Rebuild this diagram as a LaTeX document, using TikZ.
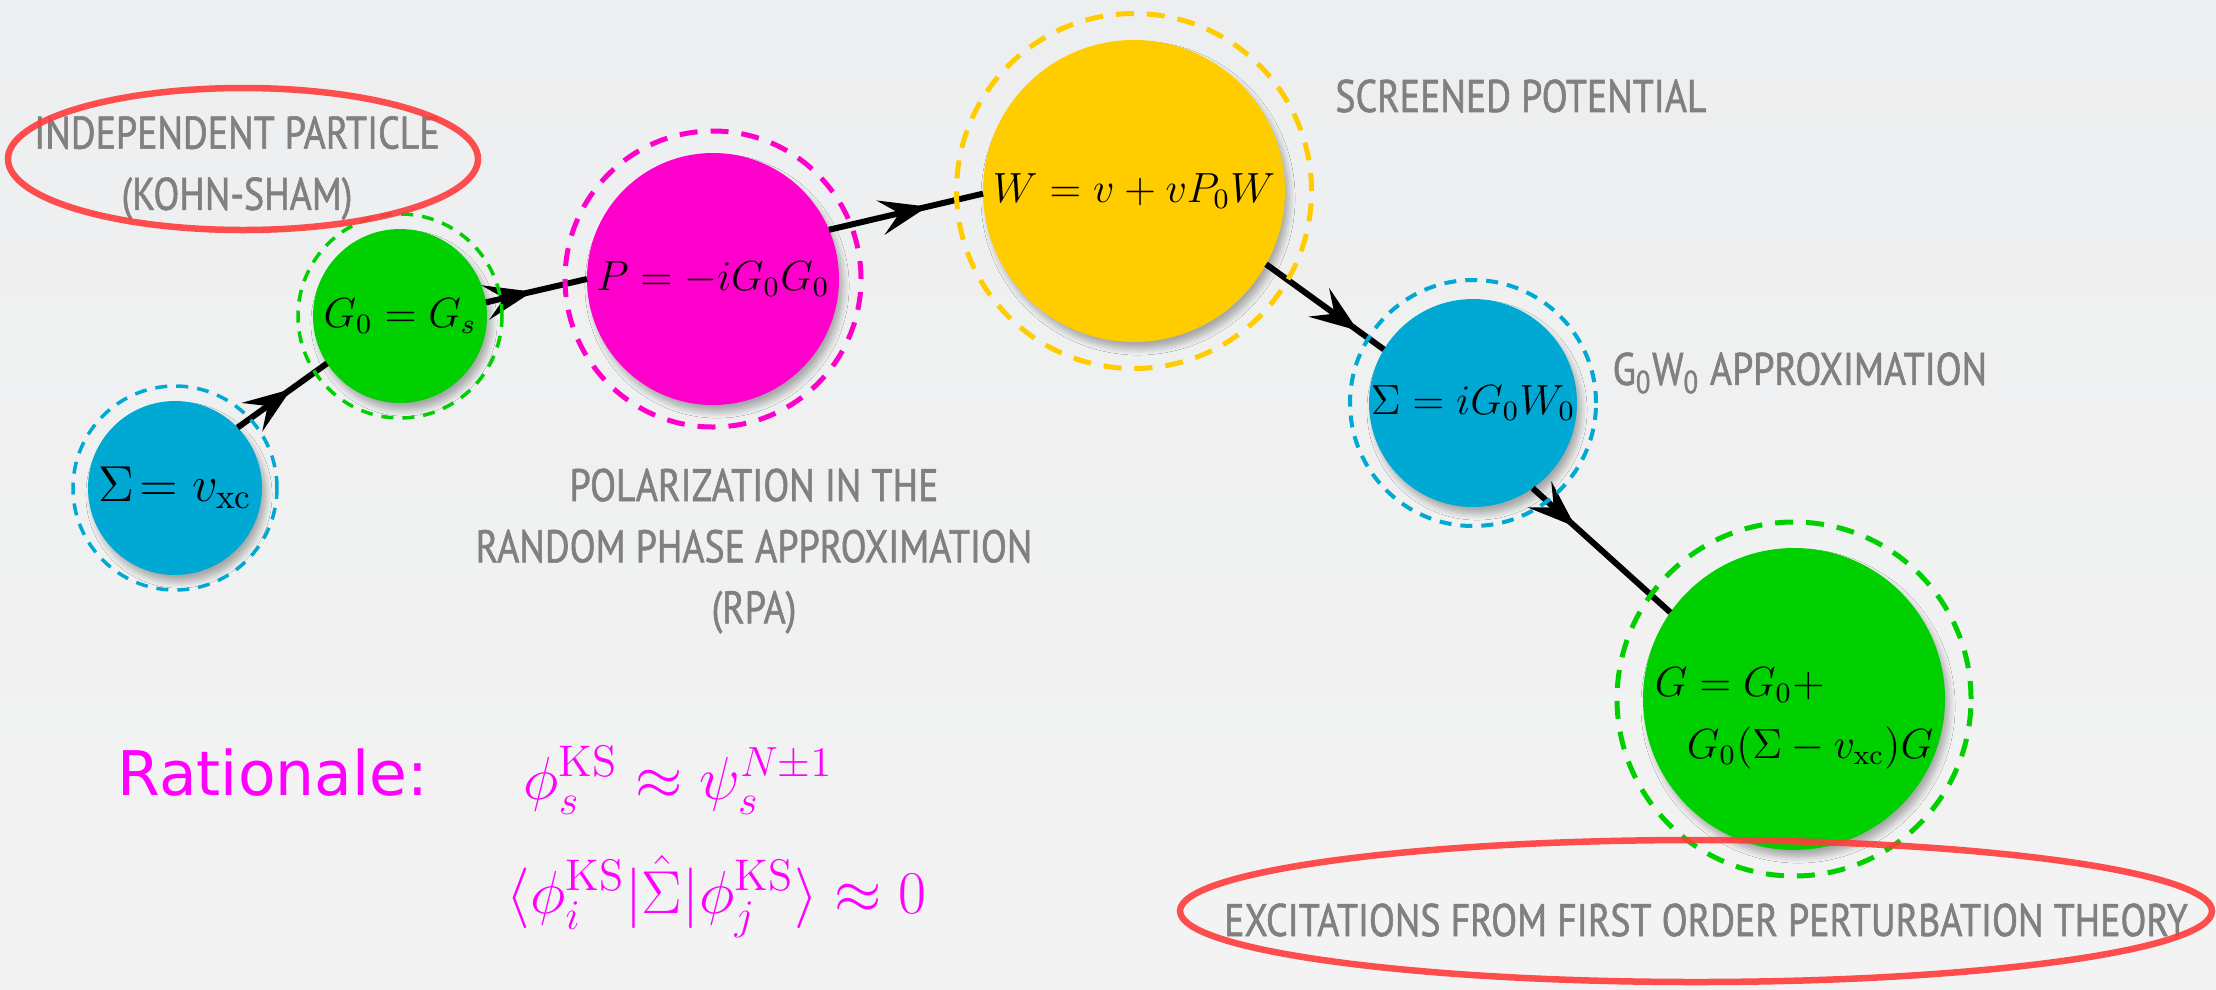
\documentclass[tikz,border=0pt]{standalone}
\usepackage{fontspec}
\usepackage{amsmath}
\usetikzlibrary{shapes.geometric,arrows.meta,decorations.markings,shadows.blur}
\newfontfamily\handfont[FakeStretch=0.83,FakeBold=1.2]{PT Sans}
\newfontfamily\ratfont{DejaVu Sans}
\definecolor{gwblue}{RGB}{0,169,212}
\definecolor{gwgreen}{RGB}{0,208,0}
\definecolor{gwpink}{RGB}{255,0,204}
\definecolor{gwyellow}{RGB}{255,204,0}
\definecolor{gwred}{RGB}{255,60,60}
\definecolor{gwgray}{RGB}{128,128,128}
\definecolor{ratpink}{RGB}{255,0,255}
\definecolor{bgtop}{RGB}{237,238,239}
\definecolor{bgbot}{RGB}{243,243,243}

\begin{document}
\begin{tikzpicture}[x=.1mm,y=-.1mm,
		bubble/.style={circle,inner sep=0pt,outer sep=0pt,font=\fontsize{12}{14}\selectfont,blur shadow={shadow xshift=.4mm,shadow yshift=-.7mm,shadow blur steps=8,shadow opacity=30}},
		thinring/.style={circle,draw,inner sep=0pt,outer sep=0pt,line width=.35mm,dash pattern=on 1.2mm off .9mm},
		thickring/.style={circle,draw,inner sep=0pt,outer sep=0pt,line width=.5mm,dash pattern=on 1.8mm off 1.3mm},
		flow/.style={black,line width=.6mm},
		arrowat/.style={postaction={decorate},decoration={markings,mark=at position #1 with {\arrow{Stealth[length=4.8mm,width=3.5mm,inset=1.9mm]}}}},
		hand/.style={text=gwgray,font=\handfont\fontsize{13}{17.4}\selectfont,align=center,inner sep=0pt},
		rattext/.style={text=ratpink,inner sep=0pt,anchor=base west,font=\fontsize{18}{20}\selectfont},
		redloop/.style={draw=gwred,draw opacity=.9,line width=.65mm}]
		\shade[top color=bgtop,bottom color=bgbot] (0,0) rectangle (2216,989);
		\useasboundingbox (0,0) rectangle (2216,989);
		\node(indep)[hand] at (237,168) {INDEPENDENT PARTICLE\\(KOHN-SHAM)};
		\node(screen)[hand] at (1521,96) {SCREENED POTENTIAL};
		\node(gwapp)[hand,anchor=west] at (1612,373) {G\textsubscript{0}W\textsubscript{0} APPROXIMATION};
		\node(rpa)[hand] at (754,551) {POLARIZATION IN THE\\RANDOM PHASE APPROXIMATION\\(RPA)};
		\node(excit)[hand] at (1706,920) {EXCITATIONS FROM FIRST ORDER PERTURBATION THEORY};
		\node(sxc)[bubble,fill=gwblue,minimum size=17.4mm,font=\fontsize{14.4}{16}\selectfont] at (175,488) {$\Sigma\!= v_{\mathrm{xc}}$};
		\node(g0)[bubble,fill=gwgreen,minimum size=17.4mm] at (400,316) {$G_0=G_s$};
		\node(pol)[bubble,fill=gwpink,minimum size=25.2mm] at (713,279) {$P=-iG_0G_0$};
		\node(scr)[bubble,fill=gwyellow,minimum size=30.2mm] at (1134,191) {$W=v+vP_0W$};
		\node(sgw)[bubble,fill=gwblue,minimum size=20.8mm] at (1473,403) {$\Sigma=iG_0W_0$};
		\node(gfull)[bubble,fill=gwgreen,minimum size=30.2mm] at (1794,699) {};
		\node(gtext)[align=left,inner sep=0pt,font=\fontsize{12}{17.6}\selectfont] at ([yshift=-1.9mm]gfull.center) {$G=G_0+$\\\hspace*{3.2mm}$G_0(\Sigma-v_{\mathrm{xc}})G$};
		\draw[flow,arrowat=.6] (sxc.44) -- (g0.213);
		\draw[flow,arrowat=.46] (g0.9) -- (pol.180);
		\draw[flow,arrowat=.64] (pol.23) -- (scr.181);
		\draw[flow,arrowat=.78] (scr.-29) -- (sgw.149);
		\draw[flow,arrowat=.31] (sgw.-55) -- (gfull.145);
		\node(sxcring)[thinring,draw=gwblue,minimum size=20.4mm] at (sxc.center) {};
		\node(g0ring)[thinring,draw=gwgreen,minimum size=20.4mm] at (g0.center) {};
		\node(polring)[thickring,draw=gwpink,minimum size=29.6mm] at (pol.center) {};
		\node(scrring)[thickring,draw=gwyellow,minimum size=35.5mm] at (scr.center) {};
		\node(sgwring)[thinring,draw=gwblue,line width=.4mm,minimum size=24.6mm] at (sgw.center) {};
		\node(gfullring)[thickring,draw=gwgreen,minimum size=35.4mm] at (gfull.center) {};
		\draw[redloop] (243,159) ellipse [x radius=23.5mm,y radius=7.1mm];
		\draw[redloop] (1696,911) ellipse [x radius=51.6mm,y radius=7.1mm];
		\node(rat)[rattext,font=\ratfont\fontsize{17.5}{20}\selectfont] at (117,795) {Rationale:};
		\node(ksa)[rattext] at (523,799) {$\phi_s^{\mathrm{KS}}\approx\psi_s^{N\pm1}$};
		\node(ksb)[rattext] at (506,913) {$\langle\phi_i^{\mathrm{KS}}|\hat{\Sigma}|\phi_j^{\mathrm{KS}}\rangle\approx0$};
	\end{tikzpicture}
\end{document}
